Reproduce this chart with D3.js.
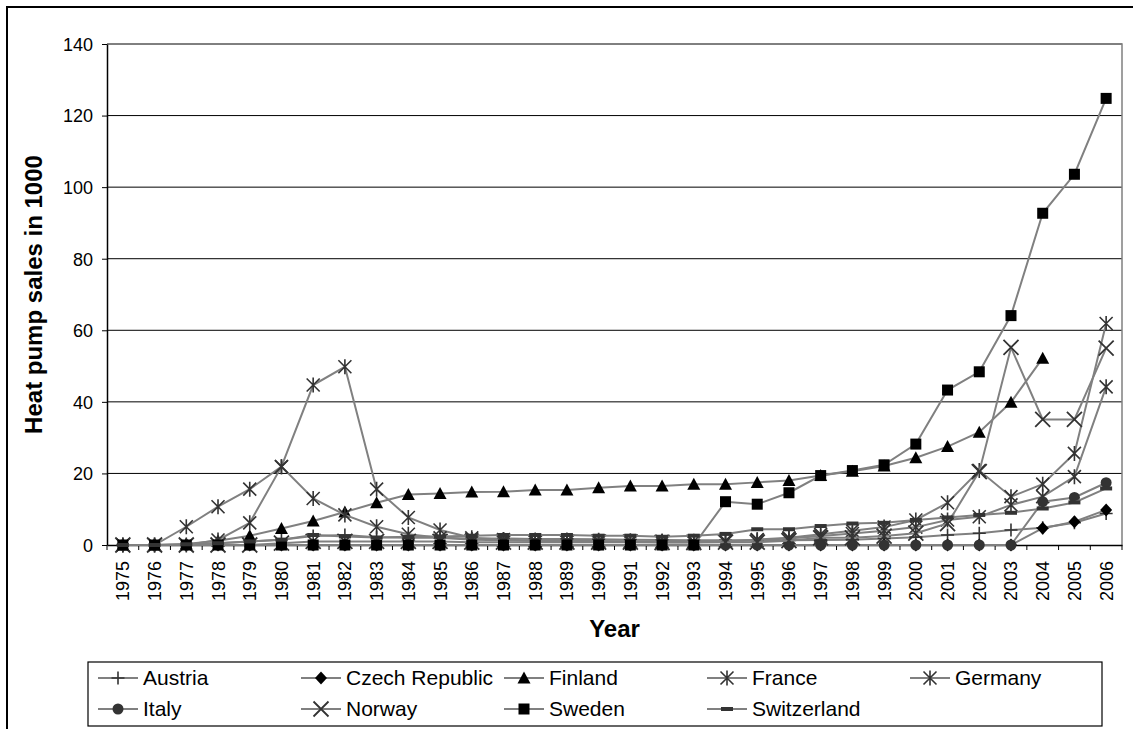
<!DOCTYPE html>
<html>
<head>
<meta charset="utf-8">
<script src="https://cdn.jsdelivr.net/npm/d3@7"></script>
<style>
  body { margin: 0; background: #fff; }
  svg { display: block; }
  text { font-family: "Liberation Sans", Arial, sans-serif; fill: #000; }
</style>
</head>
<body>
<svg id="chart" width="1133" height="729"></svg>
<script>
// Category labels (years) and value-axis ticks
const years = ["1975","1976","1977","1978","1979","1980","1981","1982","1983","1984",
               "1985","1986","1987","1988","1989","1990","1991","1992","1993","1994",
               "1995","1996","1997","1998","1999","2000","2001","2002","2003","2004",
               "2005","2006"];
const yTicks = [0, 20, 40, 60, 80, 100, 120, 140];

// Heat pump sales per country, thousands of units, 1975-2006
const austria     = [0,0,0,0.5,1.0,1.5,2.5,2.8,2.2,2.0,2.0,1.8,1.8,1.7,1.7,1.6,1.5,1.4,1.3,1.3,1.2,1.3,1.4,1.5,1.8,2.2,2.8,3.3,4.2,4.8,6.2,8.8];
const czech       = [0,0,0,0,0,0,0,0,0,0,0,0,0,0,0,0,0,0,0,0,0,0,0,0,0,0,0,0,0,4.7,6.5,9.8];
const finland     = [0,0,0.3,1.2,2.6,4.6,6.7,9.2,11.8,14.1,14.4,14.8,14.9,15.4,15.4,16.0,16.5,16.5,17.0,17.0,17.5,18.0,19.4,20.6,22.1,24.4,27.5,31.5,39.9,52.2,null,null];
const france      = [0,0,0,1.4,6.2,21.9,44.7,49.8,15.6,7.7,4.2,2.0,1.5,1.2,1.0,1.0,1.0,0.8,0.8,1.0,1.5,2.0,3.0,4.0,5.0,7.0,11.8,20.8,13.5,17.0,25.6,61.9];
const germany     = [0,0,5.1,10.7,15.6,21.9,13.0,8.4,5.1,3.0,2.0,1.5,1.3,1.2,1.2,1.1,1.0,1.0,1.0,1.2,1.4,1.8,2.5,3.2,4.0,5.0,7.0,7.9,11.2,13.5,19.1,44.2];
const italy       = [0,0,0,0,0,0,0,0,0,0,0,0,0,0,0,0,0,0,0,0,0,0,0,0,0,0,0,0,0,12.1,13.3,17.4];
const norway      = [0,0,0,0,0,0.5,1.0,1.0,1.0,1.0,1.0,0.8,0.8,0.8,0.8,0.8,0.8,0.7,0.7,0.8,0.8,1.2,2.0,2.0,2.5,3.3,6.0,20.5,55.2,35.1,35.1,55.0];
const sweden      = [0,0,0,0,0,0,0,0,0,0,0,0,0,0,0,0,0,0,0,12.1,11.4,14.6,19.4,20.8,22.4,28.2,43.3,48.4,64.1,92.7,103.6,124.8];
const switzerland = [0,0,0.2,0.5,1.0,1.5,2.8,2.4,2.1,2.3,2.4,2.6,2.8,2.8,2.8,2.6,2.6,2.3,2.6,3.1,4.4,4.4,5.3,6.0,6.2,7.0,7.7,8.4,9.0,10.2,11.9,15.8];

const seriesNames   = ["Austria","Czech Republic","Finland","France","Germany","Italy","Norway","Sweden","Switzerland"];
const seriesMarkers = ["plus","diamond","triangle","asterisk","asterisk","circle","cross","square","dash"];
const seriesValues  = [austria, czech, finland, france, germany, italy, norway, sweden, switzerland];

const series = seriesNames.map((name, i) => ({ name, marker: seriesMarkers[i], values: seriesValues[i] }));

const svg = d3.select("#chart");
const plot = { left: 107, right: 1122, top: 44, bottom: 545 };

const x = d3.scaleBand().domain(years).range([plot.left, plot.right]).paddingInner(0).paddingOuter(0);
const cx = yr => x(yr) + x.bandwidth() / 2;
const y = d3.scaleLinear().domain([0, 140]).range([plot.bottom, plot.top]);

// Outer chart frame
svg.append("path")
  .attr("d", "M7,740V7H1140")
  .attr("fill", "none").attr("stroke", "#000").attr("stroke-width", 2);

// Horizontal gridlines
svg.append("g").selectAll("line")
  .data(yTicks.filter(v => v > 0))
  .join("line")
  .attr("x1", plot.left).attr("x2", plot.right)
  .attr("y1", d => y(d)).attr("y2", d => y(d))
  .attr("stroke", "#000").attr("stroke-width", 1);

// Plot area border (top and right)
svg.append("path")
  .attr("d", `M${plot.left},${plot.top}H${plot.right}V${plot.bottom}`)
  .attr("fill", "none").attr("stroke", "#808080").attr("stroke-width", 1.5);

// Value axis
const yAxis = svg.append("g")
  .attr("transform", `translate(${plot.left},0)`)
  .call(d3.axisLeft(y).tickValues(yTicks).tickSize(5).tickSizeOuter(0).tickPadding(9))
  .attr("font-family", null).attr("font-size", null);
yAxis.select(".domain").attr("stroke", "#000").attr("stroke-width", 1.5);
yAxis.selectAll(".tick line").attr("stroke", "#000");
yAxis.selectAll(".tick text").style("font-size", "18px").attr("dy", "0.35em");

// Category axis
const xAxis = svg.append("g")
  .attr("transform", `translate(0,${plot.bottom})`)
  .call(d3.axisBottom(x).tickSize(0).tickSizeOuter(0))
  .attr("font-family", null).attr("font-size", null);
xAxis.select(".domain").attr("stroke", "#000").attr("stroke-width", 1.5);
xAxis.selectAll(".tick text")
  .attr("x", 0).attr("y", 0).attr("dy", null)
  .attr("text-anchor", "end")
  .attr("transform", "translate(6.5,16) rotate(-90)")
  .style("font-size", "18px");

// Tick marks between categories
xAxis.append("g").selectAll("line")
  .data(years.map(yr => x(yr)).concat([plot.right]))
  .join("line")
  .attr("x1", d => d).attr("x2", d => d)
  .attr("y1", 0).attr("y2", 5)
  .attr("stroke", "#000").attr("stroke-width", 1);

// Axis titles
svg.append("text")
  .attr("transform", `translate(42,${(plot.top + plot.bottom) / 2}) rotate(-90)`)
  .attr("text-anchor", "middle")
  .style("font-size", "24px").style("font-weight", "bold")
  .text("Heat pump sales in 1000");

svg.append("text")
  .attr("x", (plot.left + plot.right) / 2).attr("y", 637)
  .attr("text-anchor", "middle")
  .style("font-size", "24px").style("font-weight", "bold")
  .text("Year");

// Marker drawing
function drawMarker(g, type) {
  switch (type) {
    case "plus":
      g.append("path").attr("d", "M-6.5,0H6.5M0,-6.5V6.5")
        .attr("stroke", "#333").attr("stroke-width", 1.6).attr("fill", "none");
      break;
    case "diamond":
      g.append("path").attr("d", "M0,-6.5L6,0L0,6.5L-6,0Z").attr("fill", "#000");
      break;
    case "triangle":
      g.append("path").attr("d", "M0,-6.5L6.5,5.5L-6.5,5.5Z").attr("fill", "#000");
      break;
    case "asterisk":
      g.append("path").attr("d", "M-6.5,-6.5L6.5,6.5M-6.5,6.5L6.5,-6.5M0,-7.5V7.5")
        .attr("stroke", "#333").attr("stroke-width", 1.6).attr("fill", "none");
      break;
    case "circle":
      g.append("circle").attr("r", 5.5).attr("fill", "#333");
      break;
    case "cross":
      g.append("path").attr("d", "M-7.5,-7.5L7.5,7.5M-7.5,7.5L7.5,-7.5")
        .attr("stroke", "#333").attr("stroke-width", 1.8).attr("fill", "none");
      break;
    case "square":
      g.append("rect").attr("x", -5.5).attr("y", -5.5).attr("width", 11).attr("height", 11).attr("fill", "#000");
      break;
    case "dash":
      g.append("rect").attr("x", -6).attr("y", -2).attr("width", 12).attr("height", 4).attr("fill", "#333");
      break;
  }
}

// Series lines and markers
const line = d3.line()
  .defined(d => d != null)
  .x((d, i) => cx(years[i]))
  .y(d => y(d));

const seriesG = svg.append("g").selectAll("g").data(series).join("g");
seriesG.each(function (s) {
  const g = d3.select(this);
  g.append("path")
    .attr("d", line(s.values))
    .attr("fill", "none").attr("stroke", "#808080").attr("stroke-width", 2);
  s.values.forEach((v, i) => {
    if (v == null) return;
    const m = g.append("g").attr("transform", `translate(${cx(years[i])},${y(v)})`);
    drawMarker(m, s.marker);
  });
});

// Legend
const legend = { left: 88, right: 1102, top: 662, bottom: 726 };
svg.append("rect")
  .attr("x", legend.left).attr("y", legend.top)
  .attr("width", legend.right - legend.left).attr("height", legend.bottom - legend.top)
  .attr("fill", "#fff").attr("stroke", "#000").attr("stroke-width", 1.2);

const colStart = 95, colPitch = 203, rowY = [678, 709];
series.forEach((s, i) => {
  const col = i % 5, row = Math.floor(i / 5);
  const gx = colStart + col * colPitch, gy = rowY[row];
  const g = svg.append("g").attr("transform", `translate(${gx},${gy})`);
  g.append("line").attr("x1", 3).attr("x2", 43).attr("y1", 0).attr("y2", 0)
    .attr("stroke", "#808080").attr("stroke-width", 2);
  const m = g.append("g").attr("transform", "translate(23,0)");
  drawMarker(m, s.marker);
  g.append("text").attr("x", 48).attr("y", 0).attr("dy", "0.35em")
    .style("font-size", "21px").text(s.name);
});
</script>
</body>
</html>
